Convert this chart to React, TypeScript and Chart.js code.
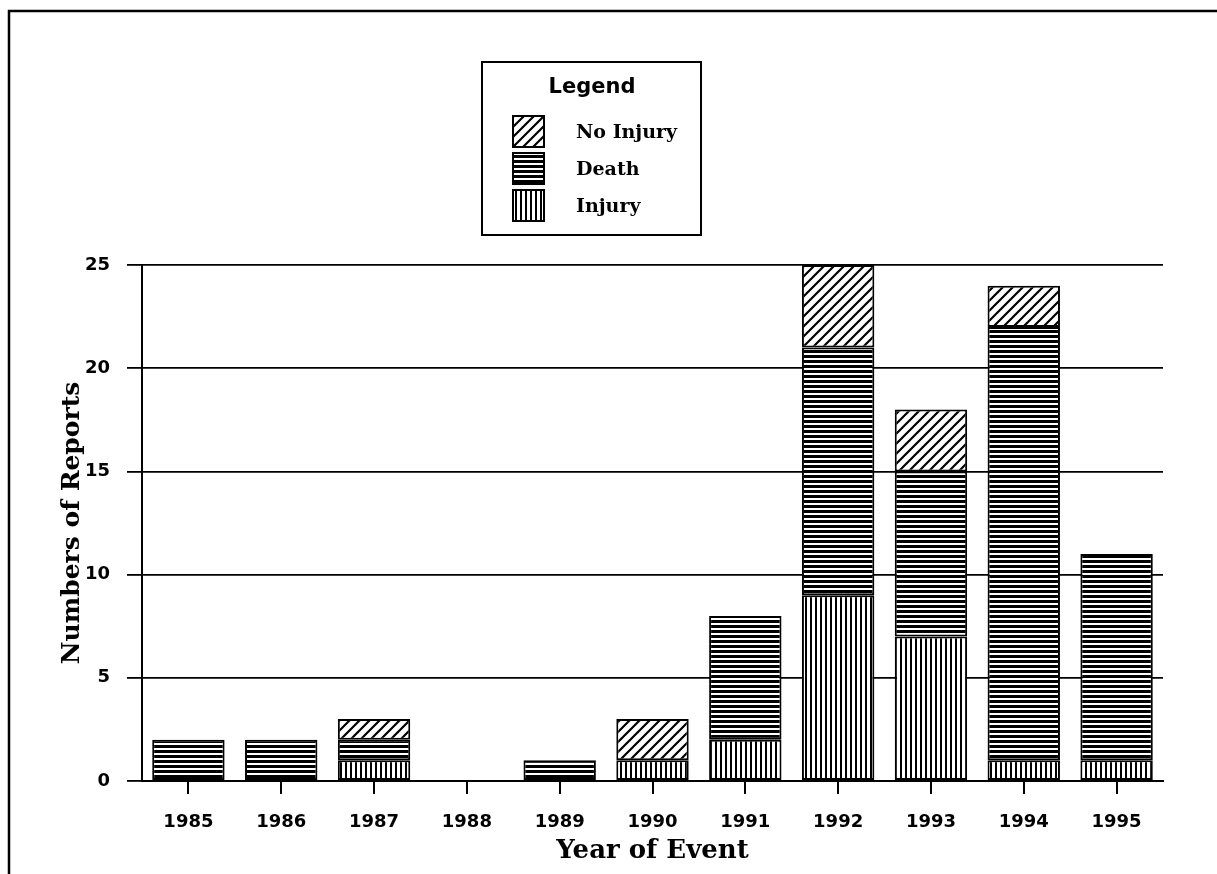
import React, { useEffect, useRef } from "react";
import { Chart, registerables } from "chart.js";

Chart.register(...registerables);

const years = ["1985", "1986", "1987", "1988", "1989", "1990", "1991", "1992", "1993", "1994", "1995"];
const injury = [0, 0, 1, 0, 0, 1, 2, 9, 7, 1, 1];
const death = [2, 2, 1, 0, 1, 0, 6, 12, 8, 21, 10];
const noInjury = [0, 0, 1, 0, 0, 2, 0, 4, 3, 2, 0];
const yTicks = [0, 5, 10, 15, 20, 25];

const SANS = "'DejaVu Sans', sans-serif";
const SERIF = "'DejaVu Serif', serif";

function makePattern(kind: string): CanvasPattern | string {
  const c = document.createElement("canvas");
  const ctx = c.getContext("2d");
  if (!ctx) return "#000";
  if (kind === "vertical") {
    c.width = 5; c.height = 5;
    ctx.fillStyle = "#fff"; ctx.fillRect(0, 0, 5, 5);
    ctx.fillStyle = "#000"; ctx.fillRect(0, 0, 2, 5);
  } else if (kind === "horizontal") {
    c.width = 5; c.height = 5;
    ctx.fillStyle = "#fff"; ctx.fillRect(0, 0, 5, 5);
    ctx.fillStyle = "#000"; ctx.fillRect(0, 0, 5, 3);
  } else {
    c.width = 10; c.height = 10;
    ctx.fillStyle = "#fff"; ctx.fillRect(0, 0, 10, 10);
    ctx.strokeStyle = "#000"; ctx.lineWidth = 2.2;
    ctx.beginPath();
    ctx.moveTo(-1, 11); ctx.lineTo(11, -1);
    ctx.moveTo(-6, 6); ctx.lineTo(6, -6);
    ctx.moveTo(4, 16); ctx.lineTo(16, 4);
    ctx.stroke();
  }
  const p = ctx.createPattern(c, "repeat");
  return p || "#000";
}

const framePlugin = {
  id: "frame",
  beforeDraw(chart: any) {
    const ctx = chart.ctx;
    ctx.save();
    ctx.fillStyle = "#fff";
    ctx.fillRect(0, 0, chart.width, chart.height);
    ctx.strokeStyle = "#000";
    ctx.lineWidth = 2.5;
    ctx.beginPath();
    ctx.moveTo(9, 880);
    ctx.lineTo(9, 11);
    ctx.lineTo(1217, 11);
    ctx.stroke();
    ctx.restore();
  },
};

const legendPlugin = {
  id: "customLegend",
  afterDraw(chart: any) {
    const ctx = chart.ctx;
    ctx.save();
    ctx.strokeStyle = "#000";
    ctx.lineWidth = 2;
    ctx.fillStyle = "#fff";
    ctx.fillRect(482, 62, 219, 173);
    ctx.strokeRect(482, 62, 219, 173);
    ctx.fillStyle = "#000";
    ctx.textAlign = "center";
    ctx.textBaseline = "middle";
    ctx.font = "bold 21px " + SANS;
    ctx.fillText("Legend", 592, 88);
    const order = [2, 1, 0];
    order.forEach((di, i) => {
      const ds = chart.data.datasets[di];
      const y = 116 + i * 37;
      ctx.fillStyle = ds.backgroundColor;
      ctx.fillRect(513, y, 31, 31);
      ctx.lineWidth = 2;
      ctx.strokeStyle = "#000";
      ctx.strokeRect(513, y, 31, 31);
      ctx.fillStyle = "#000";
      ctx.textAlign = "left";
      ctx.font = "bold 19px " + SERIF;
      ctx.fillText(ds.label, 576, y + 17);
    });
    ctx.restore();
  },
};

export default function App() {
  const ref = useRef<HTMLCanvasElement | null>(null);
  useEffect(() => {
    if (!ref.current) return;
    const common = {
      borderColor: "#000",
      borderWidth: 2,
      borderSkipped: false,
      barPercentage: 0.78,
      categoryPercentage: 1.0,
    };
    const chart = new Chart(ref.current, {
      type: "bar",
      data: {
        labels: years,
        datasets: [
          { label: "Injury", data: injury, backgroundColor: makePattern("vertical"), ...common },
          { label: "Death", data: death, backgroundColor: makePattern("horizontal"), ...common },
          { label: "No Injury", data: noInjury, backgroundColor: makePattern("diagonal"), ...common },
        ],
      } as any,
      options: {
        responsive: false,
        animation: false,
        layout: { padding: { left: 0, top: 265, right: 54, bottom: 0 } },
        plugins: { legend: { display: false }, tooltip: { enabled: false }, title: { display: false } },
        scales: {
          x: {
            stacked: true,
            afterFit: (s: any) => { s.height = 93; },
            grid: {
              display: true,
              drawOnChartArea: false,
              drawTicks: true,
              tickLength: 13,
              offset: false,
              color: "#000",
              lineWidth: 2,
            },
            border: { display: true, color: "#000", width: 2 },
            ticks: {
              color: "#000",
              padding: 18,
              font: { family: SANS, weight: "bold", size: 18 },
              maxRotation: 0,
            },
            title: {
              display: true,
              text: "Year of Event",
              color: "#000",
              font: { family: SERIF, weight: "bold", size: 26 },
              padding: { top: 0, bottom: 7 },
            },
          },
          y: {
            stacked: true,
            min: 0,
            max: 25,
            afterFit: (s: any) => { s.width = 142; },
            afterBuildTicks: (s: any) => { s.ticks = yTicks.map((v) => ({ value: v })); },
            grid: {
              display: true,
              drawOnChartArea: true,
              drawTicks: true,
              tickLength: 15,
              color: "#000",
              lineWidth: 1.8,
            },
            border: { display: true, color: "#000", width: 2 },
            ticks: {
              color: "#000",
              padding: 17,
              font: { family: SANS, weight: "bold", size: 18 },
            },
            title: {
              display: true,
              text: "Numbers of Reports",
              color: "#000",
              font: { family: SERIF, weight: "bold", size: 25 },
              padding: { top: 57, bottom: 0 },
            },
          },
        },
      } as any,
      plugins: [framePlugin, legendPlugin],
    });
    return () => chart.destroy();
  }, []);
  return (
    <div style={{ position: "fixed", left: 0, top: 0, width: 1217, height: 874, background: "#fff" }}>
      <canvas ref={ref} width={1217} height={874} style={{ display: "block", width: 1217, height: 874 }} />
    </div>
  );
}
